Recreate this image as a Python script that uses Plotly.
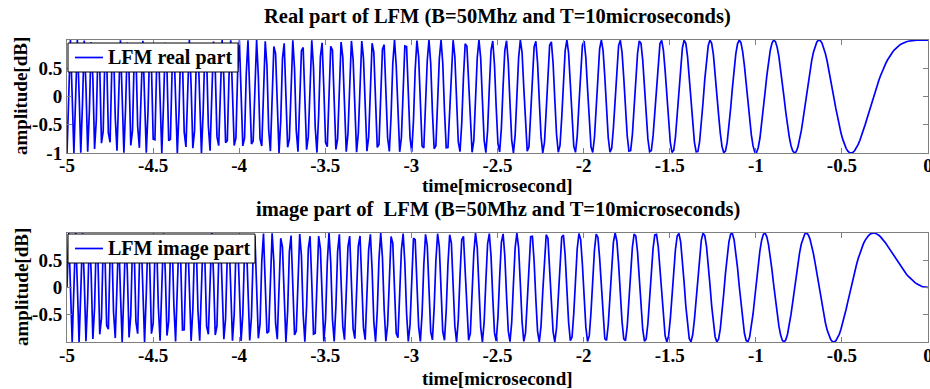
import numpy as np
import plotly.graph_objects as go
from plotly.subplots import make_subplots

# Chirp parameters as stated in the titles
B_MHZ = 50.0          # bandwidth, MHz
T_US = 10.0           # pulse width, microseconds
FS_MHZ = 2 * B_MHZ    # sampling rate used for the plotted samples
N_SAMPLES = int(T_US * FS_MHZ)

titles = ["Real part of LFM (B=50Mhz and T=10microseconds)",
          "image part of  LFM (B=50Mhz and T=10microseconds)"]
legend_names = ["LFM real part", "LFM image part"]
x_tickvals = [-5, -4.5, -4, -3.5, -3, -2.5, -2, -1.5, -1, -0.5, 0]
x_ticktext = ["-5", "-4.5", "-4", "-3.5", "-3", "-2.5", "-2", "-1.5", "-1", "-0.5", "0"]
y_tickvals_top = [-1, -0.5, 0, 0.5]
y_ticktext_top = ["-1", "-0.5", "0", "0.5"]
y_tickvals_bot = [-0.5, 0, 0.5]
y_ticktext_bot = ["-0.5", "0", "0.5"]
x_title = "time[microsecond]"
y_title = "amplitude[dB]"

K = B_MHZ / T_US  # MHz per microsecond
t_us = np.linspace(-T_US / 2, T_US / 2, N_SAMPLES)
sig = np.exp(1j * np.pi * K * t_us ** 2)
real_part = sig.real
imag_part = sig.imag

FONT = "Liberation Serif"
W, H = 930, 389
L, R, T, Bm = 67, 2, 40, 47
ph = H - T - Bm
pw = W - L - R

def fy(px):
    return (H - Bm - px) / ph

def fx(px):
    return (px - L) / pw

BLUE = "#0000ff"
fig = make_subplots(rows=2, cols=1)
fig.add_trace(go.Scatter(x=t_us, y=real_part, mode="lines", name=legend_names[0],
                         line=dict(color=BLUE, width=1.7), showlegend=False), row=1, col=1)
fig.add_trace(go.Scatter(x=t_us, y=imag_part, mode="lines", name=legend_names[1],
                         line=dict(color=BLUE, width=1.7), showlegend=False), row=2, col=1)

top_dom = [fy(153), 1.0]
bot_dom = [0.0, fy(233)]

tick_font = dict(family=FONT, size=19, color="black", weight="bold")
axis_common = dict(showline=True, linecolor="#7f7f7f", linewidth=1, mirror="ticks",
                   ticks="inside", ticklen=5, tickcolor="#7f7f7f", showgrid=False,
                   zeroline=False, tickfont=tick_font, ticklabeloverflow="allow",
                   automargin=False)

fig.update_layout(
    xaxis=dict(domain=[0, 1], range=[-5, 0], tickvals=x_tickvals, ticktext=x_ticktext,
               ticklabelstandoff=-5, **axis_common),
    xaxis2=dict(domain=[0, 1], range=[-5, 0], tickvals=x_tickvals, ticktext=x_ticktext,
                ticklabelstandoff=-4, **axis_common),
    yaxis=dict(domain=top_dom, range=[-1, 1], tickvals=y_tickvals_top, ticktext=y_ticktext_top,
               **axis_common),
    yaxis2=dict(domain=bot_dom, range=[-1, 1], tickvals=y_tickvals_bot, ticktext=y_ticktext_bot,
                **axis_common),
)

# titles
for txt, ypx in [(titles[0], 17), (titles[1], 209)]:
    fig.add_annotation(text="<b>" + txt + "</b>", xref="paper", yref="paper",
                       x=0.5, y=fy(ypx), xanchor="center", yanchor="middle", showarrow=False,
                       font=dict(family=FONT, size=20.5, color="black"))
# axis titles
for ypx in [185, 378]:
    fig.add_annotation(text="<b>" + x_title + "</b>", xref="paper", yref="paper",
                       x=fx(497), y=fy(ypx), xanchor="center", yanchor="middle", showarrow=False,
                       font=dict(family=FONT, size=19, color="black"))
for ypx in [96, 287]:
    fig.add_annotation(text="<b>" + y_title + "</b>", xref="paper", yref="paper",
                       x=fx(21), y=fy(ypx), xanchor="center", yanchor="middle", showarrow=False,
                       textangle=-90, font=dict(family=FONT, size=19, color="black"))

# legend boxes (one per subplot)
legend_boxes = [(68, 238, 43, 72, legend_names[0]), (68, 255, 234, 263, legend_names[1])]
for x0, x1, y0, y1, name in legend_boxes:
    fig.add_shape(type="rect", xref="paper", yref="paper", x0=fx(x0), x1=fx(x1),
                  y0=fy(y1), y1=fy(y0), line=dict(color="black", width=1),
                  fillcolor="white", layer="above")
    ym = (y0 + y1) / 2
    fig.add_shape(type="line", xref="paper", yref="paper", x0=fx(75), x1=fx(103),
                  y0=fy(ym), y1=fy(ym), line=dict(color=BLUE, width=1.7), layer="above")
    fig.add_annotation(text="<b>" + name + "</b>", xref="paper", yref="paper",
                       x=fx(106), y=fy(ym), xanchor="left", yanchor="middle", showarrow=False,
                       font=dict(family=FONT, size=20, color="black"))

fig.update_layout(width=W, height=H, margin=dict(l=L, r=R, t=T, b=Bm),
                  plot_bgcolor="white", paper_bgcolor="white", showlegend=False)

fig.write_html("out.html")
